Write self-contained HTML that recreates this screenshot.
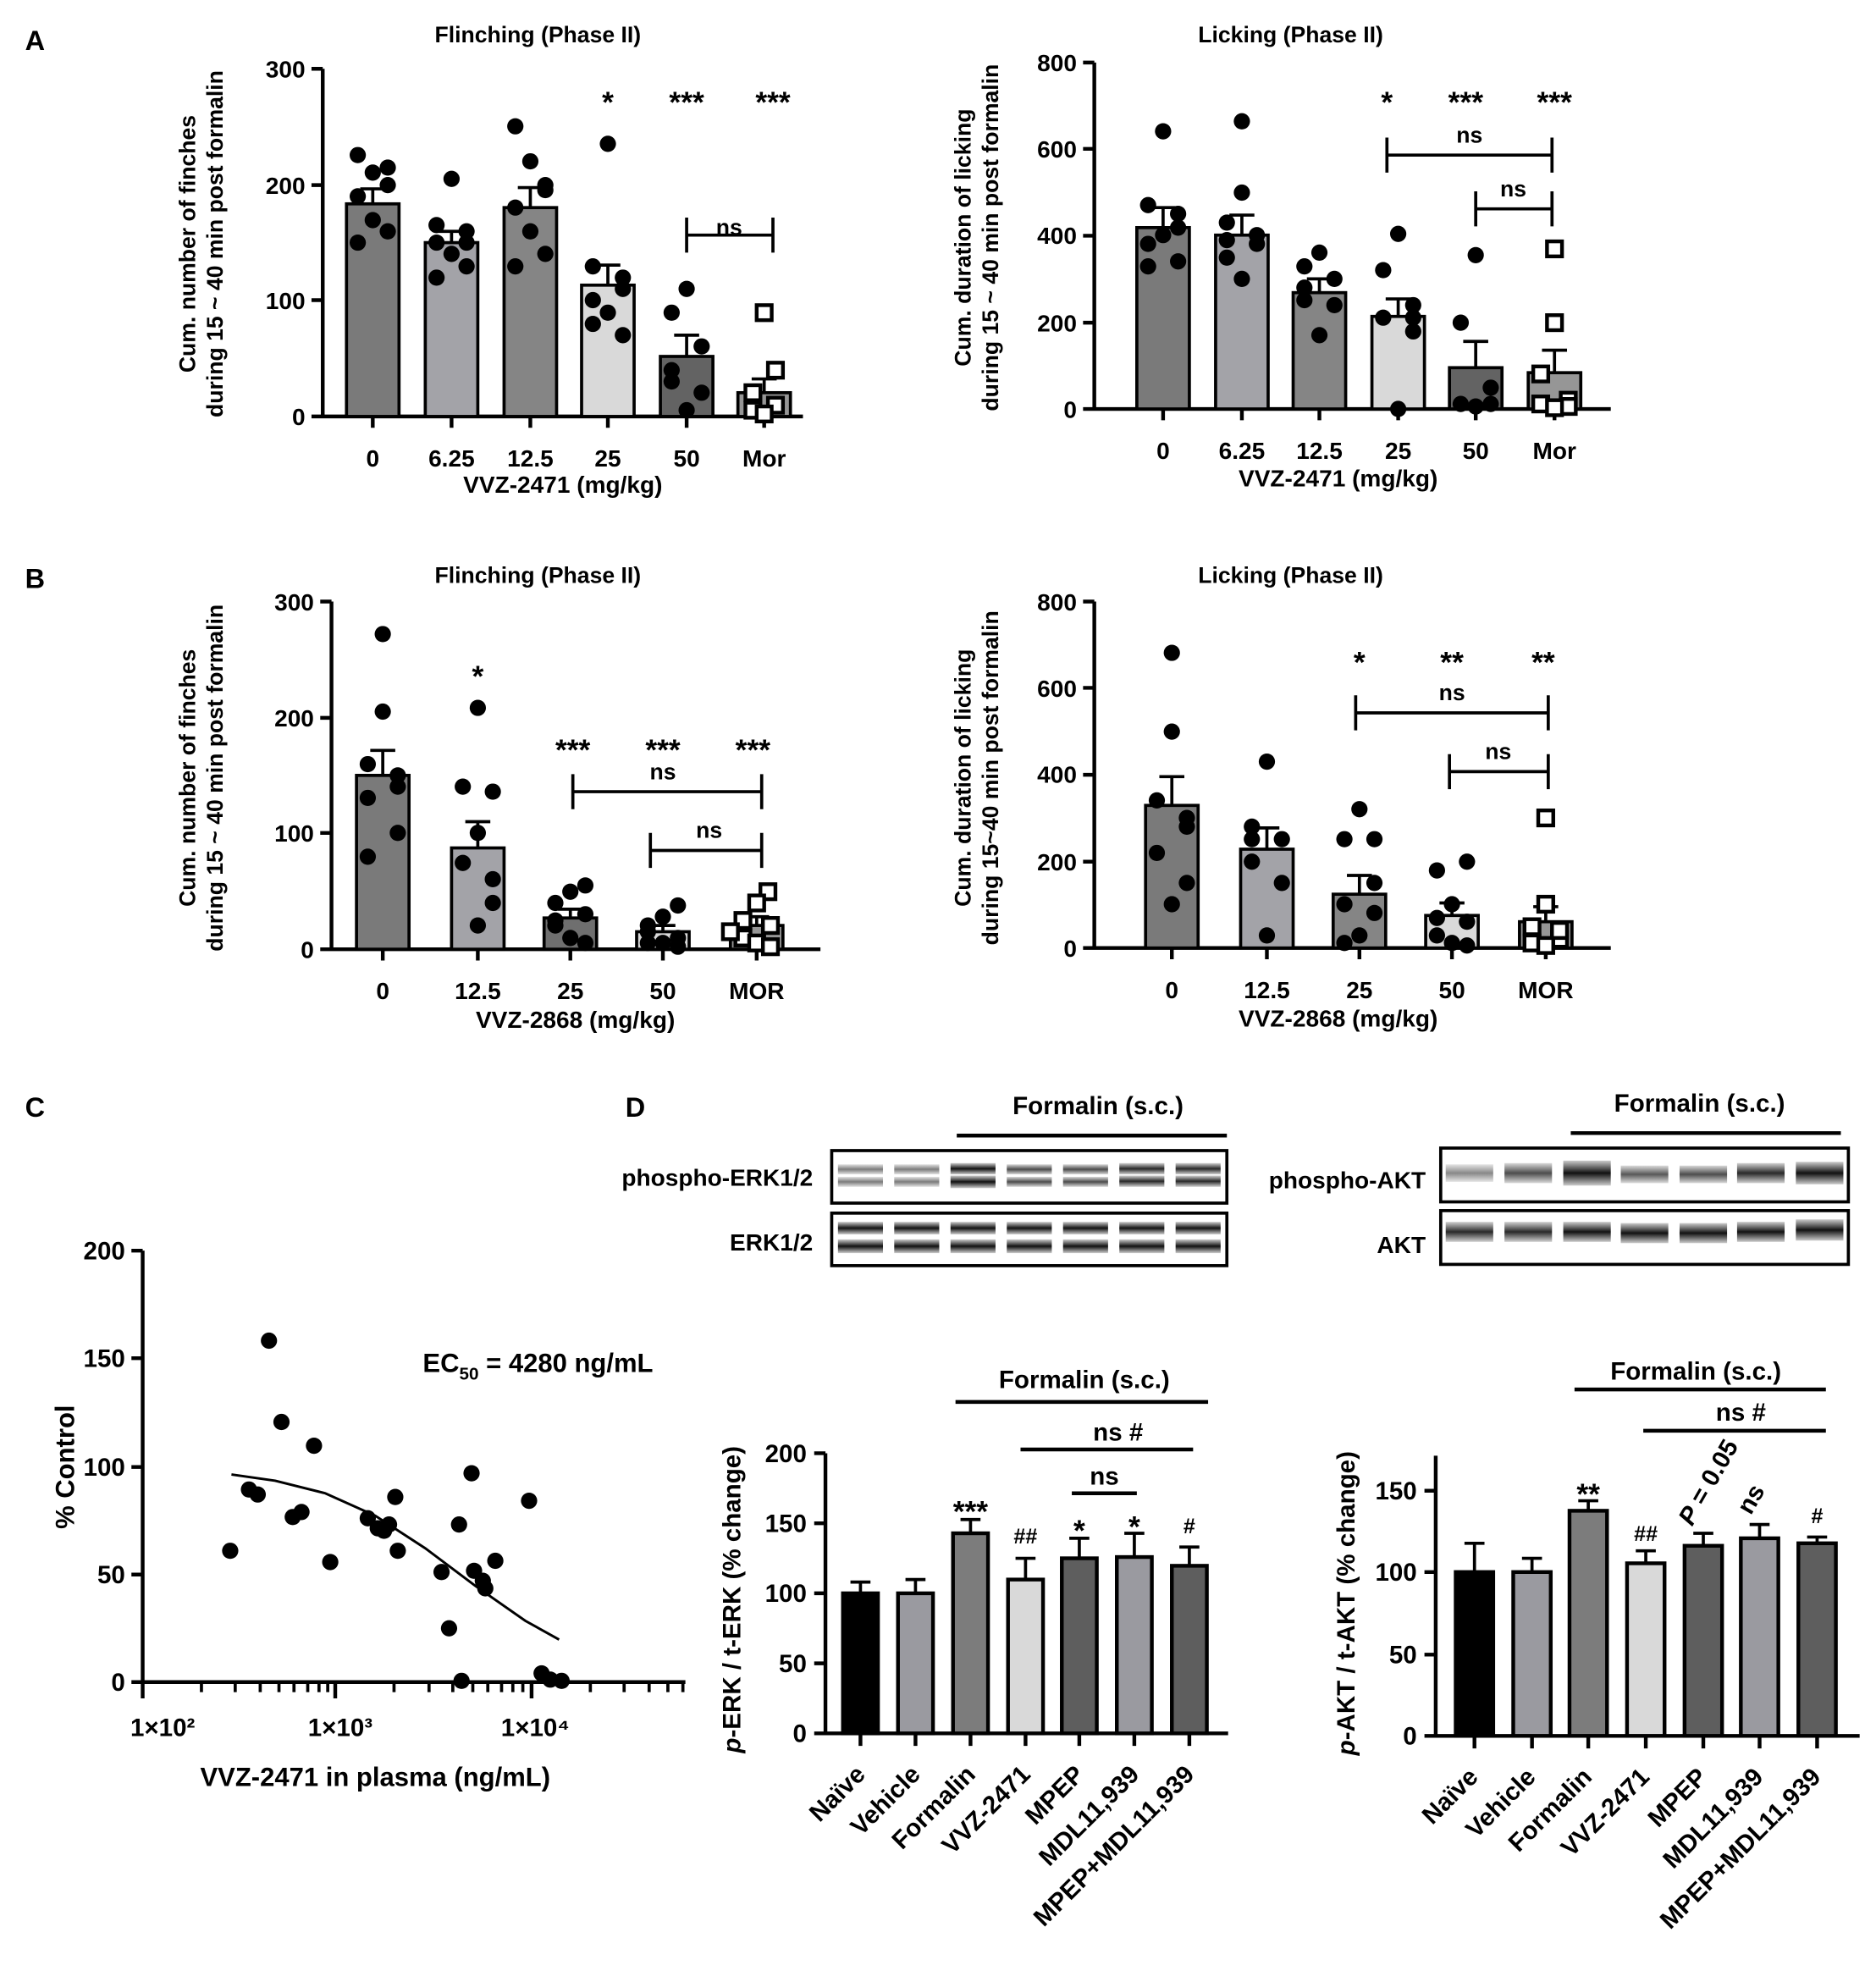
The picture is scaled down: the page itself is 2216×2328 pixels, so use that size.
<!DOCTYPE html>
<html><head><meta charset="utf-8"><style>
html,body{margin:0;padding:0;background:#fff}
svg{display:block}
text{font-family:"Liberation Sans",Arial,sans-serif;font-weight:bold;fill:#000}
</style></head><body>
<svg width="2216" height="2328" viewBox="0 0 1500 1576" xmlns="http://www.w3.org/2000/svg" xmlns:xlink="http://www.w3.org/1999/xlink">
<defs>
<linearGradient id="band" x1="0" y1="0" x2="0" y2="1">
<stop offset="0" stop-color="#ccc"/><stop offset="0.5" stop-color="#111"/><stop offset="1" stop-color="#ccc"/></linearGradient>
<circle id="d" cx="0" cy="0" r="6.5" fill="#000"/>
<rect id="s" x="-6" y="-6" width="12" height="12" fill="#fff" stroke="#000" stroke-width="3"/>
</defs>
<g font-size="22"><text x="20" y="40">A</text><text x="20" y="470">B</text><text x="20" y="893">C</text><text x="500" y="893">D</text></g>

<g stroke="#000" stroke-width="3" fill="none">
<path d="M258,55V334M257,333H642M249,333H258M249,240H258M249,148H258M249,55H258M298,333v9M361,333v9M424,333v9M486,333v9M549,333v9M611,333v9"/>
<path d="M875,50V328M874,327H1288M866,327H875M866,258H875M866,188.5H875M866,119H875M866,50H875M930,327v9M993,327v9M1055,327v9M1118,327v9M1180,327v9M1243,327v9"/>
<path d="M265,481V760M264,759H656M256,759H265M256,666H265M256,574H265M256,481H265M306,759v9M382,759v9M456,759v9M530,759v9M605,759v9"/>
<path d="M875,481V759M874,758H1288M866,758H875M866,689H875M866,619.5H875M866,550H875M866,481H875M937,758v9M1013,758v9M1087,758v9M1161,758v9M1236,758v9"/>
<!-- C -->
<path d="M114,1000V1346M113,1345H548M105,1345H114M105,1259H114M105,1173H114M105,1086H114M105,1000H114M114,1345v13M268,1345v13M425,1345v13"/>
<!-- D left -->
<path d="M660,1162V1387M659,1386H982M651,1386H660M651,1330H660M651,1274H660M651,1218H660M651,1162H660M688,1386v10M732,1386v10M776,1386v10M820,1386v10M863,1386v10M907,1386v10M951,1386v10"/>
<!-- D right -->
<path d="M1148,1164V1389M1147,1388H1487M1139,1388H1148M1139,1323H1148M1139,1257H1148M1139,1192H1148M1179,1388v10M1225,1388v10M1270,1388v10M1316,1388v10M1362,1388v10M1407,1388v10M1453,1388v10"/>
</g>
<g stroke="#000" stroke-width="2.5" fill="none">
<path d="M161,1345v8M188,1345v8M208,1345v8M223,1345v8M235,1345v8M246,1345v8M255,1345v8M262,1345v8M315,1345v8M343,1345v8M362,1345v8M378,1345v8M390,1345v8M401,1345v8M410,1345v8M418,1345v8M472,1345v8M499,1345v8M519,1345v8M534,1345v8M546,1345v8"/>
</g>

<!-- bars -->
<g stroke="#000" stroke-width="2.5">
<rect x="277" y="163" width="42" height="170" fill="#7a7a7a"/>
<rect x="340" y="194" width="42" height="139" fill="#a3a3a8"/>
<rect x="403" y="166" width="42" height="167" fill="#858585"/>
<rect x="465" y="228" width="42" height="105" fill="#d9d9d9"/>
<rect x="528" y="285" width="42" height="48" fill="#636363"/>
<rect x="590" y="314" width="42" height="19" fill="#969696"/>

<rect x="909" y="182" width="42" height="145" fill="#7a7a7a"/>
<rect x="972" y="188" width="42" height="139" fill="#a3a3a8"/>
<rect x="1034" y="234" width="42" height="93" fill="#858585"/>
<rect x="1097" y="253" width="42" height="74" fill="#d9d9d9"/>
<rect x="1159" y="294" width="42" height="33" fill="#636363"/>
<rect x="1222" y="298" width="42" height="29" fill="#969696"/>

<rect x="285" y="620" width="42" height="139" fill="#7a7a7a"/>
<rect x="361" y="678" width="42" height="81" fill="#a3a3a8"/>
<rect x="435" y="734" width="42" height="25" fill="#6f6f6f"/>
<rect x="509" y="745" width="42" height="14" fill="#d9d9d9"/>
<rect x="584" y="740" width="42" height="19" fill="#969696"/>

<rect x="916" y="644" width="42" height="114" fill="#7a7a7a"/>
<rect x="992" y="679" width="42" height="79" fill="#a3a3a8"/>
<rect x="1066" y="715" width="42" height="43" fill="#858585"/>
<rect x="1140" y="732" width="42" height="26" fill="#d9d9d9"/>
<rect x="1215" y="737" width="42" height="21" fill="#969696"/>
</g>
<g stroke="#000" stroke-width="3">
<rect x="674" y="1274" width="28" height="112" fill="#000"/>
<rect x="718" y="1274" width="28" height="112" fill="#9a9aa0"/>
<rect x="762" y="1226" width="28" height="160" fill="#7c7c7c"/>
<rect x="806" y="1263" width="28" height="123" fill="#d9d9d9"/>
<rect x="849" y="1246" width="28" height="140" fill="#5e5e5e"/>
<rect x="893" y="1245" width="28" height="141" fill="#9a9aa0"/>
<rect x="937" y="1252" width="28" height="134" fill="#5e5e5e"/>

<rect x="1164" y="1257" width="30" height="131" fill="#000"/>
<rect x="1210" y="1257" width="30" height="131" fill="#9a9aa0"/>
<rect x="1255" y="1208" width="30" height="180" fill="#7c7c7c"/>
<rect x="1301" y="1250" width="30" height="138" fill="#d9d9d9"/>
<rect x="1347" y="1236" width="30" height="152" fill="#5e5e5e"/>
<rect x="1392" y="1230" width="30" height="158" fill="#9a9aa0"/>
<rect x="1438" y="1234" width="30" height="154" fill="#5e5e5e"/>
</g>

<!-- error bars -->
<g stroke="#000" stroke-width="2.5" fill="none">
<path d="M298,163V151M288,151h20M361,194V185M351,185h20M424,166V150M414,150h20M486,228V212M476,212h20M549,285V268M539,268h20M611,314V303M601,303h20"/>
<path d="M930,182V166M920,166h20M993,188V172M983,172h20M1055,234V223M1045,223h20M1118,253V239M1108,239h20M1180,294V273M1170,273h20M1243,298V280M1233,280h20"/>
<path d="M306,620V600M296,600h20M382,678V657M372,657h20M456,734V727M446,727h20M530,745V740M520,740h20M605,740V733M595,733h20"/>
<path d="M937,644V621M927,621h20M1013,679V662M1003,662h20M1087,715V700M1077,700h20M1161,732V722M1151,722h20M1236,737V725M1226,725h20"/>
<path d="M688,1274V1265M680,1265h16M732,1274V1263M724,1263h16M776,1226V1215M768,1215h16M820,1263V1246M812,1246h16M863,1246V1230M855,1230h16M907,1245V1226M899,1226h16M951,1252V1237M943,1237h16"/>
<path d="M1179,1257V1234M1171,1234h16M1225,1257V1246M1217,1246h16M1270,1208V1200M1262,1200h16M1316,1250V1240M1308,1240h16M1362,1236V1226M1354,1226h16M1407,1230V1219M1399,1219h16M1453,1234V1229M1445,1229h16"/>
<path d="M549,188H618M549,174V202M618,174V202"/>
<path d="M1109,124H1241M1109,110V138M1241,110V138M1180,167H1241M1180,153V181M1241,153V181"/>
<path d="M458,633H609M458,619V647M609,619V647M520,680H609M520,666V694M609,666V694"/>
<path d="M1084,570H1238M1084,556V584M1238,556V584M1159,617H1238M1159,603V631M1238,603V631"/>
<path stroke-width="3" d="M765,908H981M1256,906H1472M764,1121H966M816,1159H954M857,1194H909M1259,1111H1460M1314,1144H1460"/>
<polyline stroke-width="2" points="185,1179 220,1184 260,1194 300,1212 340,1238 380,1268 420,1296 447,1311"/>
</g>

<!-- dots -->
<g>
<use xlink:href="#d" x="286" y="124"/><use xlink:href="#d" x="298" y="138"/><use xlink:href="#d" x="310" y="148"/><use xlink:href="#d" x="286" y="157"/><use xlink:href="#d" x="298" y="176"/><use xlink:href="#d" x="310" y="185"/><use xlink:href="#d" x="286" y="194"/><use xlink:href="#d" x="310" y="134"/>
<use xlink:href="#d" x="361" y="143"/><use xlink:href="#d" x="349" y="180"/><use xlink:href="#d" x="373" y="185"/><use xlink:href="#d" x="349" y="194"/><use xlink:href="#d" x="361" y="203"/><use xlink:href="#d" x="373" y="213"/><use xlink:href="#d" x="349" y="222"/><use xlink:href="#d" x="373" y="194"/>
<use xlink:href="#d" x="412" y="101"/><use xlink:href="#d" x="424" y="129"/><use xlink:href="#d" x="436" y="148"/><use xlink:href="#d" x="412" y="166"/><use xlink:href="#d" x="424" y="185"/><use xlink:href="#d" x="436" y="203"/><use xlink:href="#d" x="412" y="213"/><use xlink:href="#d" x="436" y="152"/>
<use xlink:href="#d" x="486" y="115"/><use xlink:href="#d" x="474" y="213"/><use xlink:href="#d" x="498" y="222"/><use xlink:href="#d" x="474" y="240"/><use xlink:href="#d" x="486" y="250"/><use xlink:href="#d" x="498" y="268"/><use xlink:href="#d" x="474" y="259"/><use xlink:href="#d" x="498" y="231"/>
<use xlink:href="#d" x="549" y="231"/><use xlink:href="#d" x="537" y="250"/><use xlink:href="#d" x="561" y="277"/><use xlink:href="#d" x="537" y="296"/><use xlink:href="#d" x="561" y="314"/><use xlink:href="#d" x="549" y="328"/><use xlink:href="#d" x="537" y="305"/>
<use xlink:href="#s" x="611" y="250"/><use xlink:href="#s" x="620" y="296"/><use xlink:href="#s" x="602" y="314"/><use xlink:href="#s" x="620" y="324"/><use xlink:href="#s" x="602" y="328"/><use xlink:href="#s" x="611" y="331"/>

<use xlink:href="#d" x="930" y="105"/><use xlink:href="#d" x="918" y="164"/><use xlink:href="#d" x="942" y="171"/><use xlink:href="#d" x="930" y="188"/><use xlink:href="#d" x="918" y="195"/><use xlink:href="#d" x="942" y="209"/><use xlink:href="#d" x="918" y="213"/><use xlink:href="#d" x="942" y="182"/>
<use xlink:href="#d" x="993" y="97"/><use xlink:href="#d" x="993" y="154"/><use xlink:href="#d" x="981" y="178"/><use xlink:href="#d" x="1005" y="195"/><use xlink:href="#d" x="981" y="206"/><use xlink:href="#d" x="993" y="223"/><use xlink:href="#d" x="1005" y="188"/><use xlink:href="#d" x="981" y="192"/>
<use xlink:href="#d" x="1055" y="202"/><use xlink:href="#d" x="1043" y="213"/><use xlink:href="#d" x="1067" y="223"/><use xlink:href="#d" x="1043" y="230"/><use xlink:href="#d" x="1067" y="244"/><use xlink:href="#d" x="1055" y="268"/><use xlink:href="#d" x="1043" y="240"/>
<use xlink:href="#d" x="1118" y="187"/><use xlink:href="#d" x="1106" y="216"/><use xlink:href="#d" x="1130" y="244"/><use xlink:href="#d" x="1106" y="254"/><use xlink:href="#d" x="1130" y="265"/><use xlink:href="#d" x="1118" y="327"/><use xlink:href="#d" x="1130" y="254"/>
<use xlink:href="#d" x="1180" y="204"/><use xlink:href="#d" x="1168" y="258"/><use xlink:href="#d" x="1192" y="310"/><use xlink:href="#d" x="1168" y="323"/><use xlink:href="#d" x="1192" y="323"/><use xlink:href="#d" x="1180" y="325"/>
<use xlink:href="#s" x="1243" y="199"/><use xlink:href="#s" x="1243" y="258"/><use xlink:href="#s" x="1232" y="299"/><use xlink:href="#s" x="1254" y="320"/><use xlink:href="#s" x="1232" y="323"/><use xlink:href="#s" x="1254" y="325"/><use xlink:href="#s" x="1243" y="326"/>

<use xlink:href="#d" x="306" y="507"/><use xlink:href="#d" x="306" y="569"/><use xlink:href="#d" x="294" y="611"/><use xlink:href="#d" x="318" y="620"/><use xlink:href="#d" x="294" y="638"/><use xlink:href="#d" x="318" y="666"/><use xlink:href="#d" x="294" y="685"/><use xlink:href="#d" x="318" y="629"/>
<use xlink:href="#d" x="382" y="566"/><use xlink:href="#d" x="370" y="629"/><use xlink:href="#d" x="394" y="633"/><use xlink:href="#d" x="382" y="666"/><use xlink:href="#d" x="370" y="690"/><use xlink:href="#d" x="394" y="722"/><use xlink:href="#d" x="382" y="740"/><use xlink:href="#d" x="394" y="703"/>
<use xlink:href="#d" x="468" y="708"/><use xlink:href="#d" x="456" y="713"/><use xlink:href="#d" x="444" y="722"/><use xlink:href="#d" x="468" y="731"/><use xlink:href="#d" x="444" y="740"/><use xlink:href="#d" x="456" y="750"/><use xlink:href="#d" x="468" y="754"/><use xlink:href="#d" x="444" y="736"/>
<use xlink:href="#d" x="542" y="724"/><use xlink:href="#d" x="530" y="733"/><use xlink:href="#d" x="518" y="740"/><use xlink:href="#d" x="542" y="750"/><use xlink:href="#d" x="518" y="754"/><use xlink:href="#d" x="530" y="754"/><use xlink:href="#d" x="542" y="757"/><use xlink:href="#d" x="518" y="745"/>
<use xlink:href="#s" x="614" y="713"/><use xlink:href="#s" x="605" y="722"/><use xlink:href="#s" x="594" y="736"/><use xlink:href="#s" x="616" y="740"/><use xlink:href="#s" x="594" y="750"/><use xlink:href="#s" x="605" y="754"/><use xlink:href="#s" x="616" y="757"/><use xlink:href="#s" x="584" y="745"/>

<use xlink:href="#d" x="937" y="522"/><use xlink:href="#d" x="937" y="585"/><use xlink:href="#d" x="925" y="640"/><use xlink:href="#d" x="949" y="661"/><use xlink:href="#d" x="925" y="682"/><use xlink:href="#d" x="949" y="706"/><use xlink:href="#d" x="937" y="723"/><use xlink:href="#d" x="949" y="654"/>
<use xlink:href="#d" x="1013" y="609"/><use xlink:href="#d" x="1001" y="661"/><use xlink:href="#d" x="1025" y="671"/><use xlink:href="#d" x="1001" y="689"/><use xlink:href="#d" x="1025" y="706"/><use xlink:href="#d" x="1013" y="748"/><use xlink:href="#d" x="1001" y="671"/>
<use xlink:href="#d" x="1087" y="647"/><use xlink:href="#d" x="1075" y="671"/><use xlink:href="#d" x="1099" y="671"/><use xlink:href="#d" x="1075" y="723"/><use xlink:href="#d" x="1099" y="730"/><use xlink:href="#d" x="1087" y="748"/><use xlink:href="#d" x="1075" y="754"/><use xlink:href="#d" x="1099" y="706"/>
<use xlink:href="#d" x="1173" y="689"/><use xlink:href="#d" x="1149" y="696"/><use xlink:href="#d" x="1161" y="723"/><use xlink:href="#d" x="1173" y="737"/><use xlink:href="#d" x="1149" y="748"/><use xlink:href="#d" x="1161" y="754"/><use xlink:href="#d" x="1173" y="756"/><use xlink:href="#d" x="1149" y="734"/>
<use xlink:href="#s" x="1236" y="654"/><use xlink:href="#s" x="1236" y="723"/><use xlink:href="#s" x="1225" y="741"/><use xlink:href="#s" x="1247" y="751"/><use xlink:href="#s" x="1225" y="754"/><use xlink:href="#s" x="1236" y="756"/><use xlink:href="#s" x="1247" y="744"/>

<g transform="translate(0,5)">
<use xlink:href="#d" x="184" y="1235"/><use xlink:href="#d" x="199" y="1186"/><use xlink:href="#d" x="206" y="1190"/><use xlink:href="#d" x="215" y="1067"/><use xlink:href="#d" x="225" y="1132"/><use xlink:href="#d" x="234" y="1208"/><use xlink:href="#d" x="241" y="1204"/><use xlink:href="#d" x="251" y="1151"/><use xlink:href="#d" x="264" y="1244"/><use xlink:href="#d" x="294" y="1209"/><use xlink:href="#d" x="302" y="1217"/><use xlink:href="#d" x="307" y="1219"/><use xlink:href="#d" x="311" y="1214"/><use xlink:href="#d" x="316" y="1192"/><use xlink:href="#d" x="318" y="1235"/><use xlink:href="#d" x="353" y="1252"/><use xlink:href="#d" x="359" y="1297"/><use xlink:href="#d" x="367" y="1214"/><use xlink:href="#d" x="369" y="1339"/><use xlink:href="#d" x="377" y="1173"/><use xlink:href="#d" x="379" y="1251"/><use xlink:href="#d" x="386" y="1259"/><use xlink:href="#d" x="388" y="1265"/><use xlink:href="#d" x="396" y="1243"/><use xlink:href="#d" x="423" y="1195"/><use xlink:href="#d" x="433" y="1333"/><use xlink:href="#d" x="440" y="1338"/><use xlink:href="#d" x="449" y="1339"/>
</g>
</g>

<!-- blots -->
<g stroke="#000" stroke-width="2.5" fill="#fff">
<rect x="665" y="920" width="316" height="42"/><rect x="665" y="970" width="316" height="42"/>
<rect x="1152" y="918" width="326" height="43"/><rect x="1152" y="968" width="326" height="43"/>
</g>
<g fill="url(#band)">
<g opacity="0.55"><rect x="670" y="931" width="36" height="8"/><rect x="670" y="941" width="36" height="8"/><rect x="715" y="931" width="36" height="8"/><rect x="715" y="941" width="36" height="8"/></g>
<rect x="760" y="930" width="36" height="9"/><rect x="760" y="940" width="36" height="10"/>
<g opacity="0.75"><rect x="805" y="931" width="36" height="8"/><rect x="805" y="941" width="36" height="8"/><rect x="850" y="931" width="36" height="8"/><rect x="850" y="941" width="36" height="8"/></g>
<g opacity="0.9"><rect x="895" y="930" width="36" height="9"/><rect x="895" y="940" width="36" height="9"/><rect x="940" y="930" width="36" height="9"/><rect x="940" y="940" width="36" height="9"/></g>
<rect x="670" y="977" width="36" height="10"/><rect x="670" y="991" width="36" height="11"/><rect x="715" y="977" width="36" height="10"/><rect x="715" y="991" width="36" height="11"/><rect x="760" y="977" width="36" height="10"/><rect x="760" y="991" width="36" height="11"/><rect x="805" y="977" width="36" height="10"/><rect x="805" y="991" width="36" height="11"/><rect x="850" y="977" width="36" height="10"/><rect x="850" y="991" width="36" height="11"/><rect x="895" y="977" width="36" height="10"/><rect x="895" y="991" width="36" height="11"/><rect x="940" y="977" width="36" height="10"/><rect x="940" y="991" width="36" height="11"/>
<rect x="1156" y="931" width="38" height="14" opacity="0.5"/><rect x="1203" y="930" width="38" height="16" opacity="0.75"/><rect x="1250" y="928" width="38" height="20"/><rect x="1296" y="932" width="38" height="14" opacity="0.7"/><rect x="1343" y="932" width="38" height="14" opacity="0.75"/><rect x="1389" y="930" width="38" height="16" opacity="0.9"/><rect x="1436" y="929" width="38" height="18"/>
<rect x="1156" y="977" width="38" height="16" opacity="0.9"/><rect x="1203" y="977" width="38" height="16" opacity="0.9"/><rect x="1250" y="977" width="38" height="16"/><rect x="1296" y="978" width="38" height="16"/><rect x="1343" y="978" width="38" height="16"/><rect x="1389" y="977" width="38" height="16"/><rect x="1436" y="975" width="38" height="17"/>
</g>

<!-- text -->
<g font-size="19" text-anchor="end">
<text x="244" y="340">0</text><text x="244" y="247">100</text><text x="244" y="155">200</text><text x="244" y="62">300</text>
<text x="861" y="334">0</text><text x="861" y="265">200</text><text x="861" y="195">400</text><text x="861" y="126">600</text><text x="861" y="57">800</text>
<text x="251" y="766">0</text><text x="251" y="673">100</text><text x="251" y="581">200</text><text x="251" y="488">300</text>
<text x="861" y="765">0</text><text x="861" y="696">200</text><text x="861" y="626">400</text><text x="861" y="557">600</text><text x="861" y="488">800</text>
</g>
<g font-size="20" text-anchor="end">
<text x="100" y="1352">0</text><text x="100" y="1266">50</text><text x="100" y="1180">100</text><text x="100" y="1093">150</text><text x="100" y="1007">200</text>
<text x="645" y="1393">0</text><text x="645" y="1337">50</text><text x="645" y="1281">100</text><text x="645" y="1225">150</text><text x="645" y="1169">200</text>
<text x="1133" y="1395">0</text><text x="1133" y="1330">50</text><text x="1133" y="1264">100</text><text x="1133" y="1199">150</text>
<text x="650" y="948" font-size="19">phospho-ERK1/2</text><text x="650" y="1000" font-size="19">ERK1/2</text><text x="1140" y="950" font-size="19">phospho-AKT</text><text x="1140" y="1002" font-size="19">AKT</text>
</g>
<g font-size="19" text-anchor="middle">
<text x="298" y="373">0</text><text x="361" y="373">6.25</text><text x="424" y="373">12.5</text><text x="486" y="373">25</text><text x="549" y="373">50</text><text x="611" y="373">Mor</text>
<text x="930" y="367">0</text><text x="993" y="367">6.25</text><text x="1055" y="367">12.5</text><text x="1118" y="367">25</text><text x="1180" y="367">50</text><text x="1243" y="367">Mor</text>
<text x="306" y="799">0</text><text x="382" y="799">12.5</text><text x="456" y="799">25</text><text x="530" y="799">50</text><text x="605" y="799">MOR</text>
<text x="937" y="798">0</text><text x="1013" y="798">12.5</text><text x="1087" y="798">25</text><text x="1161" y="798">50</text><text x="1236" y="798">MOR</text>
<text x="450" y="394">VVZ-2471 (mg/kg)</text><text x="1070" y="389">VVZ-2471 (mg/kg)</text>
<text x="460" y="822">VVZ-2868 (mg/kg)</text><text x="1070" y="821">VVZ-2868 (mg/kg)</text>
<text x="130" y="1388" font-size="20">1×10²</text><text x="272" y="1388" font-size="20">1×10³</text><text x="428" y="1388" font-size="20">1×10⁴</text>
<text x="300" y="1428" font-size="21">VVZ-2471 in plasma (ng/mL)</text>
<text x="430" y="34" font-size="18">Flinching (Phase II)</text><text x="1032" y="34" font-size="18">Licking (Phase II)</text>
<text x="430" y="466" font-size="18">Flinching (Phase II)</text><text x="1032" y="466" font-size="18">Licking (Phase II)</text>
<text x="878" y="891" font-size="20">Formalin (s.c.)</text><text x="1359" y="889" font-size="20">Formalin (s.c.)</text>
<text x="867" y="1110" font-size="20">Formalin (s.c.)</text><text x="1356" y="1103" font-size="20">Formalin (s.c.)</text>
<text x="894" y="1152" font-size="20">ns #</text><text x="883" y="1187" font-size="20">ns</text><text x="1392" y="1136" font-size="20">ns #</text>
<text x="583" y="188" font-size="18">ns</text><text x="1175" y="114" font-size="18">ns</text><text x="1210" y="157" font-size="18">ns</text>
<text x="530" y="623" font-size="18">ns</text><text x="567" y="670" font-size="18">ns</text><text x="1161" y="560" font-size="18">ns</text><text x="1198" y="607" font-size="18">ns</text>
</g>
<g font-size="24" text-anchor="middle">
<text x="486" y="90">*</text><text x="549" y="90">***</text><text x="618" y="90">***</text>
<text x="1109" y="90">*</text><text x="1172" y="90">***</text><text x="1243" y="90">***</text>
<text x="382" y="549">*</text><text x="458" y="608">***</text><text x="530" y="608">***</text><text x="602" y="608">***</text>
<text x="1087" y="538">*</text><text x="1161" y="538">**</text><text x="1234" y="538">**</text>
<text x="776" y="1217">***</text><text x="863" y="1232">*</text><text x="907" y="1229">*</text>
<text x="1270" y="1203">**</text>
</g>
<g font-size="17" text-anchor="middle">
<text x="820" y="1234">##</text><text x="951" y="1226">#</text><text x="1316" y="1232">##</text><text x="1453" y="1218">#</text>
</g>
<text x="1400" y="1212" font-size="20" text-anchor="start" transform="rotate(-60 1400 1212)">ns</text>
<text x="1353" y="1221" font-size="20" transform="rotate(-60 1353 1221)"><tspan font-style="italic">P</tspan> = 0.05</text>
<text x="338" y="1097" font-size="21">EC<tspan font-size="14" dy="6">50</tspan><tspan dy="-6"> = 4280 ng/mL</tspan></text>
<g font-size="18" text-anchor="middle">
<text transform="translate(156,195) rotate(-90)">Cum. number of finches</text><text transform="translate(178,195) rotate(-90)">during 15 ~ 40 min post formalin</text>
<text transform="translate(776,190) rotate(-90)">Cum. duration of licking</text><text transform="translate(798,190) rotate(-90)">during 15 ~ 40 min post formalin</text>
<text transform="translate(156,622) rotate(-90)">Cum. number of finches</text><text transform="translate(178,622) rotate(-90)">during 15 ~ 40 min post formalin</text>
<text transform="translate(776,622) rotate(-90)">Cum. duration of licking</text><text transform="translate(798,622) rotate(-90)">during 15~40 min post formalin</text>
<text transform="translate(59,1173) rotate(-90)" font-size="21">% Control</text>
<text transform="translate(592,1279) rotate(-90)" font-size="20"><tspan font-style="italic">p</tspan>-ERK / t-ERK (% change)</text>
<text transform="translate(1083,1282) rotate(-90)" font-size="20"><tspan font-style="italic">p</tspan>-AKT / t-AKT (% change)</text>
</g>
<g font-size="20" text-anchor="end">
<text transform="translate(693,1420) rotate(-45)">Naïve</text><text transform="translate(737,1420) rotate(-45)">Vehicle</text><text transform="translate(781,1420) rotate(-45)">Formalin</text><text transform="translate(825,1420) rotate(-45)">VVZ-2471</text><text transform="translate(868,1420) rotate(-45)">MPEP</text><text transform="translate(912,1420) rotate(-45)">MDL11,939</text><text transform="translate(956,1420) rotate(-45)">MPEP+MDL11,939</text>
<text transform="translate(1183,1422) rotate(-45)">Naïve</text><text transform="translate(1229,1422) rotate(-45)">Vehicle</text><text transform="translate(1274,1422) rotate(-45)">Formalin</text><text transform="translate(1320,1422) rotate(-45)">VVZ-2471</text><text transform="translate(1366,1422) rotate(-45)">MPEP</text><text transform="translate(1411,1422) rotate(-45)">MDL11,939</text><text transform="translate(1457,1422) rotate(-45)">MPEP+MDL11,939</text>
</g>
</svg>
</body></html>
